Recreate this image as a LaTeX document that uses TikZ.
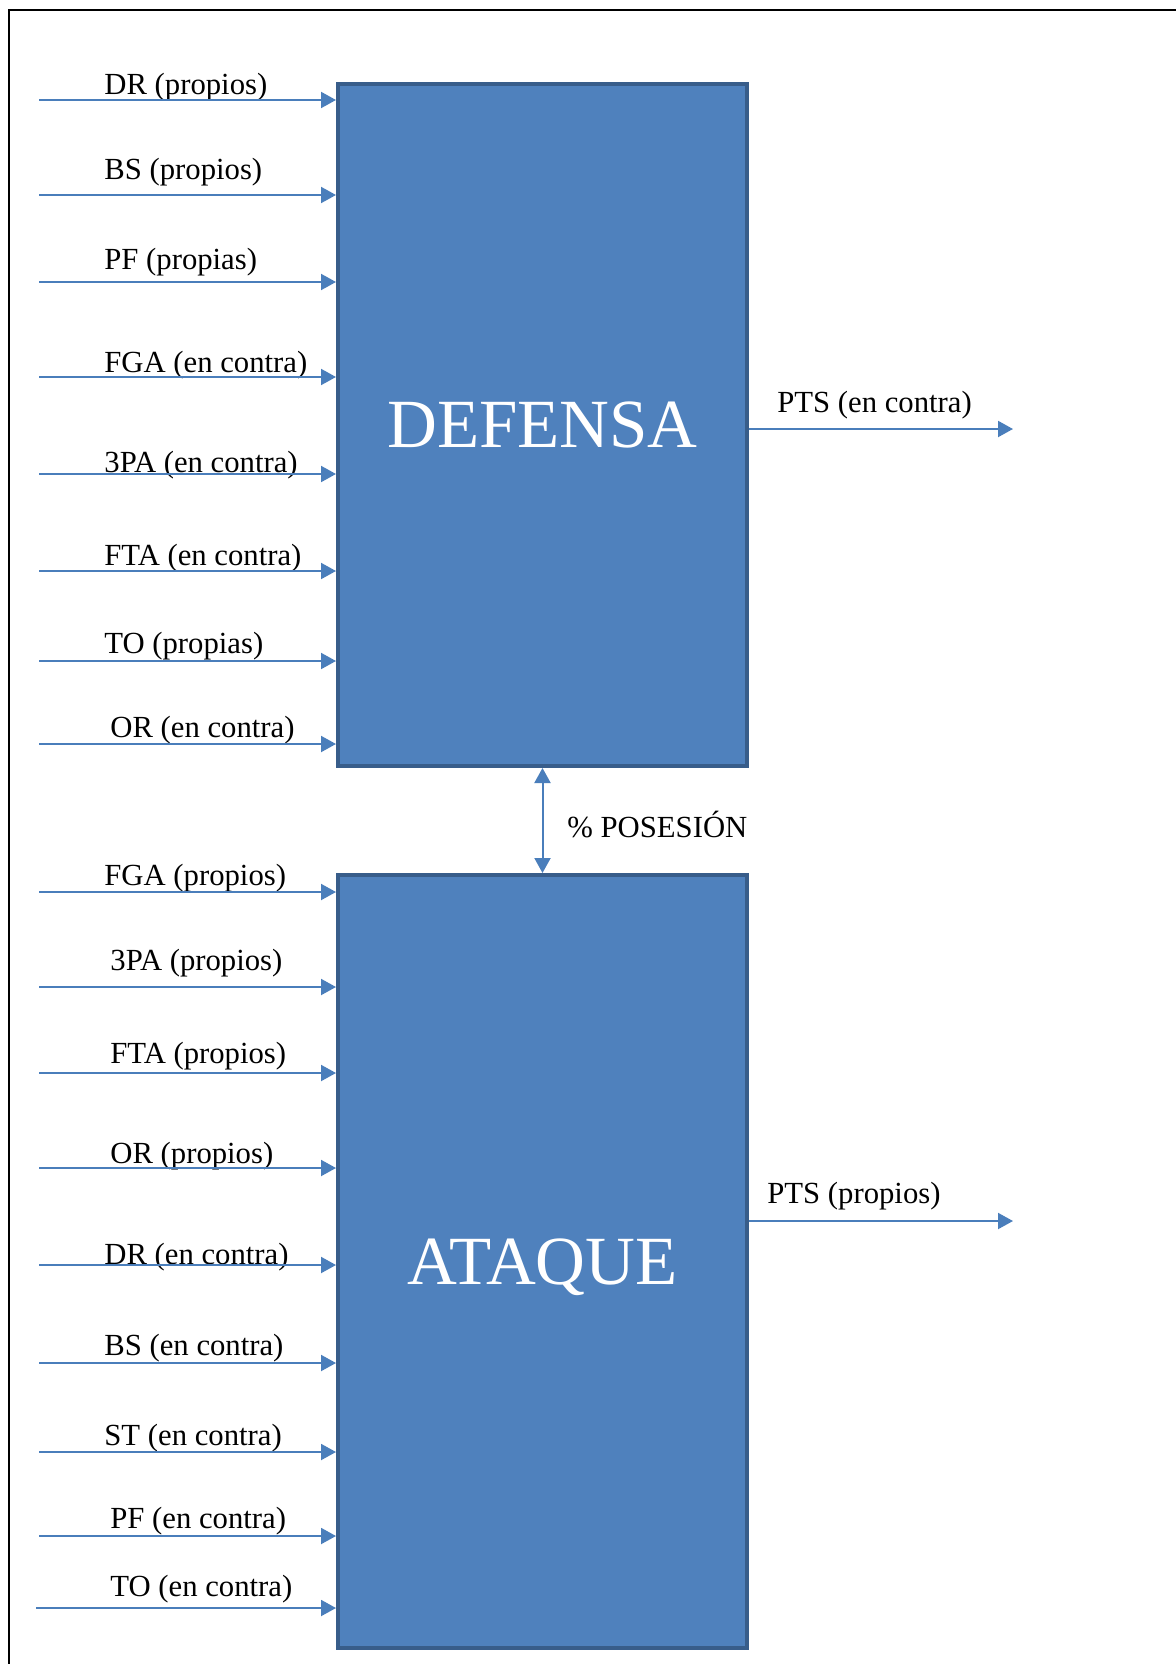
\documentclass[tikz,border=0pt]{standalone}
\usepackage{fontspec}
\setmainfont{Liberation Serif}
\usepackage{xcolor}
\usepackage{tikz}
\usetikzlibrary{arrows.meta, positioning, calc}
\definecolor{myblue}{RGB}{79,129,189}
\definecolor{myborder}{RGB}{56,93,138}
\definecolor{myarrow}{RGB}{74,126,187}
\tikzstyle{bloque} = [rectangle, minimum width=204.5pt, text centered, inner sep=0pt, text depth=0pt, draw=myborder, line width=2pt, fill=myblue, text=white, font=\fontsize{34.5}{40}\selectfont]
\tikzstyle{etiqueta} = [anchor=base west, inner sep=0pt, font=\fontsize{15.35}{18}\selectfont]
\tikzstyle{arrow} = [line width=1pt, draw=myarrow, -{Triangle[length=7.5pt, width=8pt]}]
\tikzstyle{marco} = [line width=1pt, draw=black]

\begin{document}
\begin{tikzpicture}[x=0.5pt, y=-0.5pt]
    \useasboundingbox (0,0) rectangle (1176,1664);
    \draw [marco] (9,1664) -- (9,10) -- (1176,10);

    % bloques
    \node (def) [bloque, minimum height=341pt] at (542.5,425) {DEFENSA};
    \node (atq) [bloque, minimum height=386.5pt, below=52.5pt of def] {ATAQUE};

    % entradas defensa
    \coordinate (d1) at (39,100);
    \node (ld1) [etiqueta] at (104,95) {DR (propios)};
    \draw [arrow] (d1) -- (d1 -| def.west);
    \coordinate (d2) at (39,195);
    \node (ld2) [etiqueta] at (104,180) {BS (propios)};
    \draw [arrow] (d2) -- (d2 -| def.west);
    \coordinate (d3) at (39,282);
    \node (ld3) [etiqueta] at (104,270) {PF (propias)};
    \draw [arrow] (d3) -- (d3 -| def.west);
    \coordinate (d4) at (39,377);
    \node (ld4) [etiqueta] at (104,372) {FGA (en contra)};
    \draw [arrow] (d4) -- (d4 -| def.west);
    \coordinate (d5) at (39,474);
    \node (ld5) [etiqueta] at (104,472) {3PA (en contra)};
    \draw [arrow] (d5) -- (d5 -| def.west);
    \coordinate (d6) at (39,571);
    \node (ld6) [etiqueta] at (104,565) {FTA (en contra)};
    \draw [arrow] (d6) -- (d6 -| def.west);
    \coordinate (d7) at (39,661);
    \node (ld7) [etiqueta] at (104,653) {TO (propias)};
    \draw [arrow] (d7) -- (d7 -| def.west);
    \coordinate (d8) at (39,744);
    \node (ld8) [etiqueta] at (110,737) {OR (en contra)};
    \draw [arrow] (d8) -- (d8 -| def.west);

    % entradas ataque
    \coordinate (a1) at (39,892);
    \node (la1) [etiqueta] at (104,885) {FGA (propios)};
    \draw [arrow] (a1) -- (a1 -| atq.west);
    \coordinate (a2) at (39,987);
    \node (la2) [etiqueta] at (110,970) {3PA (propios)};
    \draw [arrow] (a2) -- (a2 -| atq.west);
    \coordinate (a3) at (39,1073);
    \node (la3) [etiqueta] at (110,1063) {FTA (propios)};
    \draw [arrow] (a3) -- (a3 -| atq.west);
    \coordinate (a4) at (39,1168);
    \node (la4) [etiqueta] at (110,1163) {OR (propios)};
    \draw [arrow] (a4) -- (a4 -| atq.west);
    \coordinate (a5) at (39,1265);
    \node (la5) [etiqueta] at (104,1264) {DR (en contra)};
    \draw [arrow] (a5) -- (a5 -| atq.west);
    \coordinate (a6) at (39,1363);
    \node (la6) [etiqueta] at (104,1355) {BS (en contra)};
    \draw [arrow] (a6) -- (a6 -| atq.west);
    \coordinate (a7) at (39,1452);
    \node (la7) [etiqueta] at (104,1445) {ST (en contra)};
    \draw [arrow] (a7) -- (a7 -| atq.west);
    \coordinate (a8) at (39,1536);
    \node (la8) [etiqueta] at (110,1528) {PF (en contra)};
    \draw [arrow] (a8) -- (a8 -| atq.west);
    \coordinate (a9) at (36,1608);
    \node (la9) [etiqueta] at (110,1596) {TO (en contra)};
    \draw [arrow] (a9) -- (a9 -| atq.west);

    % salidas
    \coordinate (s1) at (1013,429);
    \node (ls1) [etiqueta] at (777,412) {PTS (en contra)};
    \draw [arrow] (def.east |- s1) -- (s1);
    \coordinate (s2) at (1013,1221);
    \node (ls2) [etiqueta] at (767,1203) {PTS (propios)};
    \draw [arrow] (atq.east |- s2) -- (s2);

    % posesion
    \draw [arrow, {Triangle[length=7.5pt, width=8pt]}-{Triangle[length=7.5pt, width=8pt]}] (def.south) -- (atq.north);
    \node (pos) [etiqueta] at (567,837) {\% POSESIÓN};
\end{tikzpicture}
\end{document}
